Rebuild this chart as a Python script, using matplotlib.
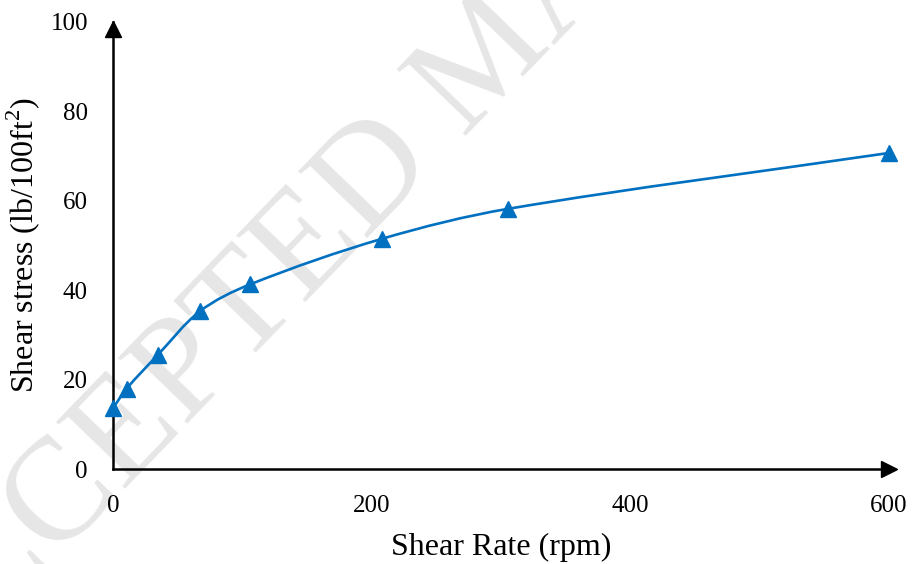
import matplotlib
matplotlib.use("Agg")
import numpy as np
import matplotlib.pyplot as plt
from matplotlib.path import Path
from matplotlib.patches import PathPatch

# shear rate (rpm) vs shear stress (lb/100ft2)
shear_rate = [0, 10.6, 34.6, 67.3, 106, 208, 305.4, 600]
shear_stress = [13.6, 18.0, 25.5, 35.3, 41.3, 51.5, 58.2, 70.7]

x_ticks = [0, 200, 400, 600]
y_ticks = [0, 20, 40, 60, 80, 100]

blue = "#0070C0"

plt.rcParams["font.family"] = ["Liberation Serif", "DejaVu Serif"]
plt.rcParams["mathtext.fontset"] = "custom"
plt.rcParams["mathtext.rm"] = "Liberation Serif"

fig = plt.figure(figsize=(9.14, 5.64), dpi=100)
ax = fig.add_axes([0.1236, 0.1684, 0.849, 0.7926])
ax.set_facecolor("none")

# faint watermark behind the chart
fig.text(0.536, 0.894, "ACCEPTED MANUSCRIPT", fontsize=105, color="#e6e6e6",
         rotation=46, rotation_mode="anchor", ha="center", va="center", zorder=-5)


def smooth_path(xs, ys, sx=776 / 600, sy=447 / 100):
    # smoothed line like the spreadsheet one: bezier segments, tangent from the
    # neighbours, handle length a third of the segment (in screen-like units)
    p = np.column_stack([np.asarray(xs) * sx, np.asarray(ys) * sy])
    n = len(p)
    tang = []
    for i in range(n):
        d = p[min(i + 1, n - 1)] - p[max(i - 1, 0)]
        tang.append(d / np.hypot(*d))
    verts = [p[0]]
    codes = [Path.MOVETO]
    for i in range(n - 1):
        seg = np.hypot(*(p[i + 1] - p[i])) / 3
        verts += [p[i] + tang[i] * seg, p[i + 1] - tang[i + 1] * seg, p[i + 1]]
        codes += [Path.CURVE4] * 3
    verts = np.array(verts) / [sx, sy]
    return Path(verts, codes)


ax.add_patch(PathPatch(smooth_path(shear_rate, shear_stress), facecolor="none",
                       edgecolor=blue, lw=1.9, zorder=3, clip_on=False))
ax.plot(shear_rate, shear_stress, linestyle="none", marker="^", markersize=11,
        color=blue, zorder=4, clip_on=False)

ax.set_xlim(0, 600)
ax.set_ylim(0, 100)
ax.set_xticks(x_ticks)
ax.set_yticks(y_ticks)
ax.tick_params(length=0, labelsize=18, colors="black")
ax.tick_params(axis="x", pad=19)
ax.tick_params(axis="y", pad=18)

for side in ["top", "right"]:
    ax.spines[side].set_visible(False)
for side in ["left", "bottom"]:
    ax.spines[side].set_linewidth(1.8)
    ax.spines[side].set_color("black")

# arrow heads at the axis ends
ax.plot(1.0, 0, marker=">", color="black", markersize=11,
        transform=ax.get_yaxis_transform(), clip_on=False, zorder=5)
ax.plot(0, 0.985, marker="^", color="black", markersize=11,
        transform=ax.get_xaxis_transform(), clip_on=False, zorder=5)

ax.set_xlabel("Shear Rate (rpm)", fontsize=23, labelpad=11)
ax.set_ylabel("Shear stress (lb/100ft$^{2}$)", fontsize=23, labelpad=6)

fig.savefig("out.png", dpi=100)
